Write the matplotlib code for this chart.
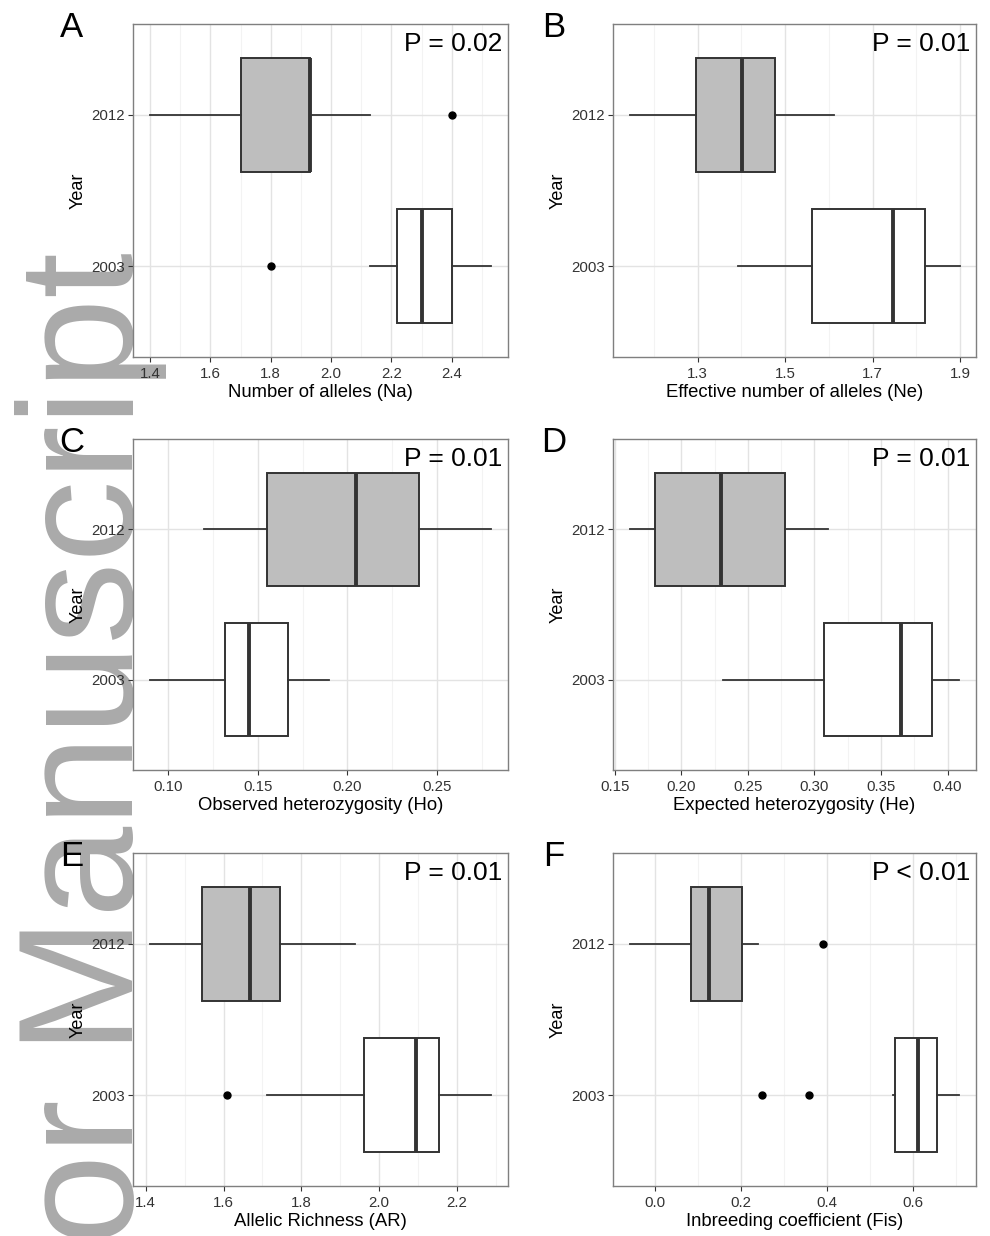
import matplotlib
matplotlib.use("Agg")
import matplotlib.pyplot as plt
import numpy as np

plt.rcParams["font.family"] = ["Liberation Sans", "DejaVu Sans"]

# box stats: [whisker low, Q1, median, Q3, whisker high]
years = ["2003", "2012"]

na_2003 = [2.13, 2.22, 2.30, 2.40, 2.53]
na_2003_out = [1.80]
na_2012 = [1.40, 1.70, 1.93, 1.93, 2.13]
na_2012_out = [2.40]

ne_2003 = [1.393, 1.561, 1.747, 1.820, 1.899]
ne_2003_out = []
ne_2012 = [1.144, 1.296, 1.402, 1.478, 1.611]
ne_2012_out = []

ho_2003 = [0.090, 0.132, 0.145, 0.167, 0.190]
ho_2003_out = []
ho_2012 = [0.120, 0.155, 0.205, 0.240, 0.280]
ho_2012_out = []

he_2003 = [0.231, 0.307, 0.365, 0.388, 0.409]
he_2003_out = []
he_2012 = [0.161, 0.180, 0.230, 0.278, 0.310]
he_2012_out = []

ar_2003 = [1.712, 1.961, 2.094, 2.155, 2.288]
ar_2003_out = [1.609]
ar_2012 = [1.411, 1.544, 1.668, 1.746, 1.938]
ar_2012_out = []

fis_2003 = [0.553, 0.558, 0.611, 0.656, 0.708]
fis_2003_out = [0.250, 0.359]
fis_2012 = [-0.059, 0.083, 0.125, 0.203, 0.239]
fis_2012_out = [0.391]

letters = ["A", "B", "C", "D", "E", "F"]
pvals = ["P = 0.02", "P = 0.01", "P = 0.01", "P = 0.01", "P = 0.01", "P < 0.01"]
xlabels = ["Number of alleles (Na)", "Effective number of alleles (Ne)",
           "Observed heterozygosity (Ho)", "Expected heterozygosity (He)",
           "Allelic Richness (AR)", "Inbreeding coefficient (Fis)"]
xticks = [[1.4, 1.6, 1.8, 2.0, 2.2, 2.4],
          [1.3, 1.5, 1.7, 1.9],
          [0.10, 0.15, 0.20, 0.25],
          [0.15, 0.20, 0.25, 0.30, 0.35, 0.40],
          [1.4, 1.6, 1.8, 2.0, 2.2],
          [0.0, 0.2, 0.4, 0.6]]
tickfmt = ["%.1f", "%.1f", "%.2f", "%.2f", "%.1f", "%.1f"]

panels = [
    (na_2003, na_2003_out, na_2012, na_2012_out),
    (ne_2003, ne_2003_out, ne_2012, ne_2012_out),
    (ho_2003, ho_2003_out, ho_2012, ho_2012_out),
    (he_2003, he_2003_out, he_2012, he_2012_out),
    (ar_2003, ar_2003_out, ar_2012, ar_2012_out),
    (fis_2003, fis_2003_out, fis_2012, fis_2012_out),
]

W, H = 990, 1236
fig = plt.figure(figsize=(W / 100, H / 100), dpi=100)

# watermark
fig.text(133 / W, 1 - 252 / H, "Author Manuscript", rotation=90,
         rotation_mode="anchor", ha="right", va="baseline",
         fontsize=118, color="#AAAAAA", zorder=-1)

cols = [(133, 375), (613, 363)]
rows = [(24, 333), (439, 331), (853, 333)]

dark = "#333333"
for i, (s03, o03, s12, o12) in enumerate(panels):
    left, w = cols[i % 2]
    top, h = rows[i // 2]
    ax = fig.add_axes([left / W, 1 - (top + h) / H, w / W, h / H])

    stats = []
    for s, o in [(s03, o03), (s12, o12)]:
        stats.append(dict(whislo=s[0], q1=s[1], med=s[2], q3=s[3],
                          whishi=s[4], fliers=o))
    bp = ax.bxp(stats, positions=[1, 2], widths=0.75, orientation="horizontal",
                patch_artist=True, showcaps=False, manage_ticks=False,
                boxprops=dict(edgecolor=dark, linewidth=1.4),
                whiskerprops=dict(color=dark, linewidth=1.3),
                medianprops=dict(color=dark, linewidth=2.8),
                flierprops=dict(marker="o", markerfacecolor="black",
                                markeredgecolor="black", markersize=5))
    bp["boxes"][0].set_facecolor("white")
    bp["boxes"][1].set_facecolor("#BEBEBE")

    # ggplot-like limits (5% expansion, discrete 0.6)
    lo = min([s03[0], s12[0]] + o03 + o12)
    hi = max([s03[4], s12[4]] + o03 + o12)
    pad = (hi - lo) * 0.05
    ax.set_xlim(lo - pad, hi + pad)
    ax.set_ylim(0.4, 2.6)

    tk = xticks[i]
    step = tk[1] - tk[0]
    ax.set_xticks(tk)
    ax.set_xticklabels([tickfmt[i] % t for t in tk])
    minors = [t + step / 2 for t in [tk[0] - step] + tk]
    ax.set_xticks([m for m in minors if lo - pad < m < hi + pad], minor=True)
    ax.set_yticks([1, 2])
    ax.set_yticklabels(years)

    ax.set_axisbelow(True)
    ax.grid(True, which="major", color="#E3E3E3", linewidth=1.0)
    ax.grid(True, which="minor", axis="x", color="#F3F3F3", linewidth=0.8)
    ax.tick_params(which="minor", length=0)
    ax.tick_params(which="major", length=3.5, width=0.8, color=dark,
                   labelsize=10.8, labelcolor=dark)
    ax.tick_params(axis="x", pad=4)
    ax.tick_params(axis="y", pad=2)
    for sp in ax.spines.values():
        sp.set_color("#7F7F7F")
        sp.set_linewidth(1.0)

    ax.set_xlabel(xlabels[i], fontsize=13.3, labelpad=2)
    ax.set_ylabel("Year", fontsize=13, labelpad=4)
    ax.text(0.984, 0.976, pvals[i], transform=ax.transAxes, ha="right",
            va="top", fontsize=19)
    ax.text(-0.164, 0.99, letters[i], transform=ax.transAxes, ha="center",
            va="center", fontsize=25)

fig.savefig("out.png", dpi=100)
